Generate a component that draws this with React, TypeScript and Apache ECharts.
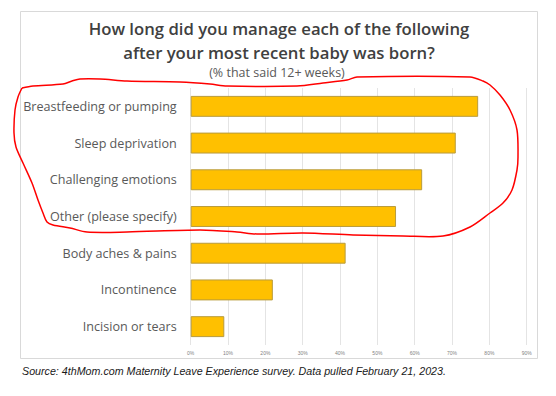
import React, { useEffect, useRef } from "react";
import * as echarts from "echarts";

const categories = [
  "Breastfeeding or pumping",
  "Sleep deprivation",
  "Challenging emotions",
  "Other (please specify)",
  "Body aches & pains",
  "Incontinence",
  "Incision or tears",
];
const values = [77, 71, 62, 55, 41.5, 22, 9];
const axisMax = 90;
const axisInterval = 10;

const titleText = "How long did you manage each of the following\nafter your most recent baby was born?";
const subtitleText = "(% that said 12+ weeks)";
const sourceText = "Source: 4thMom.com Maternity Leave Experience survey. Data pulled February 21, 2023.";

const loopPoints: number[][] = [
  [22, 88], [33, 86], [63, 84], [72, 81], [80, 79], [100, 79], [127, 81], [180, 82],
  [210, 84], [227, 86], [297, 86], [323, 83], [347, 80], [357, 77], [470, 77], [483, 81],
  [490, 85], [500, 95], [510, 110], [517, 130], [518, 157], [517, 170], [512, 190],
  [503, 203], [490, 213], [470, 227], [443, 236], [403, 236], [353, 235], [303, 233],
  [257, 234], [237, 232], [200, 230], [127, 232], [87, 232], [70, 228], [53, 225],
  [47, 222], [43, 213], [38, 200], [32, 183], [23, 163], [16, 147], [14, 133],
  [15, 110], [18, 97], [22, 88],
];

export default function App() {
  const ref = useRef<HTMLDivElement>(null);
  useEffect(() => {
    document.body.style.margin = "0";
    const chart = echarts.init(ref.current!, null, { renderer: "svg" });
    chart.setOption({
      animation: false,
      backgroundColor: "#ffffff",
      textStyle: { fontFamily: "Open Sans" },
      grid: { left: 190.7, right: 29.3, top: 88, bottom: 51, containLabel: false },
      xAxis: {
        type: "value",
        min: 0,
        max: axisMax,
        interval: axisInterval,
        axisLine: { show: false },
        axisTick: { show: false },
        splitLine: { show: true, lineStyle: { color: "#e4e4e4", width: 1 } },
        axisLabel: {
          formatter: "{value}%",
          fontSize: 5,
          color: "#7f7f7f",
          margin: 5,
          fontFamily: "Liberation Sans",
        },
      },
      yAxis: {
        type: "category",
        data: categories,
        inverse: true,
        axisLine: { show: false },
        axisTick: { show: false },
        splitLine: { show: false },
        axisLabel: { fontSize: 12.6, color: "#595959", margin: 14, fontFamily: "Open Sans" },
      },
      series: [
        {
          type: "bar",
          data: values,
          barCategoryGap: "43%",
          itemStyle: { color: "#FFC000", borderColor: "#B89B3C", borderWidth: 1 },
        },
      ],
      graphic: [
        {
          type: "rect",
          shape: { x: 20.5, y: 11.5, width: 517, height: 347 },
          style: { fill: "none", stroke: "#d9d9d9", lineWidth: 1 },
          z: 0,
        },
        {
          type: "text",
          x: 279,
          y: 16,
          style: {
            text: titleText,
            fontSize: 16.7,
            fontWeight: 600,
            lineHeight: 24,
            fontFamily: "Open Sans",
            fill: "#404040",
            align: "center",
            verticalAlign: "top",
          },
        },
        {
          type: "text",
          x: 277,
          y: 72.5,
          style: {
            text: subtitleText,
            fontSize: 12.5,
            fontFamily: "Open Sans",
            fill: "#595959",
            align: "center",
            verticalAlign: "middle",
          },
        },
        {
          type: "text",
          x: 22,
          y: 371,
          style: {
            text: sourceText,
            fontSize: 10.7,
            fontStyle: "italic",
            fontFamily: "Liberation Sans",
            fill: "#1a1a1a",
            align: "left",
            verticalAlign: "middle",
          },
        },
        {
          type: "polyline",
          shape: { points: loopPoints, smooth: 0.3 },
          style: { stroke: "#ff0000", lineWidth: 1.5, fill: "none" },
          z: 100,
        },
      ],
    });
    return () => chart.dispose();
  }, []);
  return <div ref={ref} style={{ width: 556, height: 396 }} />;
}
